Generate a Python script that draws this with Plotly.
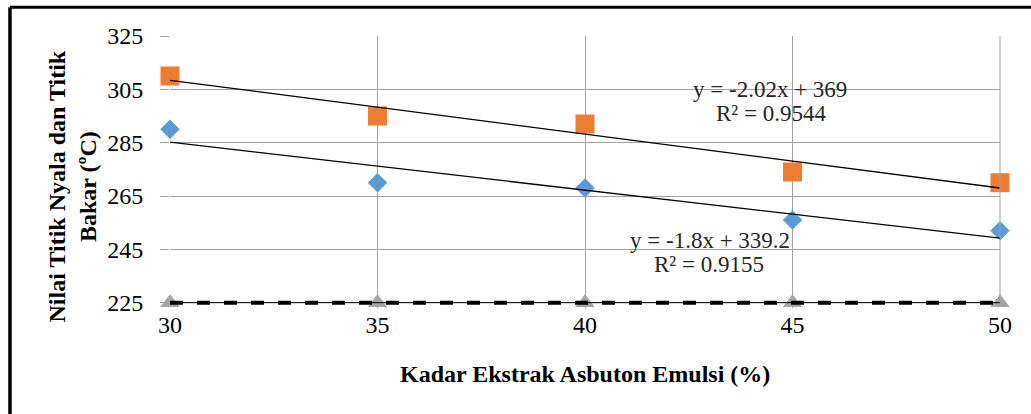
import numpy as np
import plotly.graph_objects as go

kadar = [30, 35, 40, 45, 50]
titik_bakar = [310, 295, 292, 274, 270]
titik_nyala = [290, 270, 268, 256, 252]
batas = [225, 225, 225, 225, 225]
y_ticks = [225, 245, 265, 285, 305, 325]
x_ticks = [30, 35, 40, 45, 50]

SERIF = "Liberation Serif, Times New Roman, serif"
GRID = "#a0a0a0"

fig = go.Figure()

# reference series at 225: thin line + thick dashes
fig.add_trace(go.Scatter(x=kadar, y=batas, mode="markers",
                         marker=dict(symbol="triangle-up", size=17, color="#A5A5A5"),
                         cliponaxis=False, showlegend=False))
fig.add_trace(go.Scatter(x=kadar, y=batas, mode="lines",
                         line=dict(color="black", width=1), cliponaxis=False,
                         showlegend=False, hoverinfo="skip"))
fig.add_trace(go.Scatter(x=kadar, y=batas, mode="lines",
                         line=dict(color="black", width=4, dash="13px,14px"),
                         cliponaxis=False, showlegend=False))

xa = np.array(kadar, dtype=float)
for vals, color, sym, size in [(titik_bakar, "#ED7D31", "square", 19),
                               (titik_nyala, "#5B9BD5", "diamond", 15)]:
    fig.add_trace(go.Scatter(x=kadar, y=vals, mode="markers",
                             marker=dict(symbol=sym, size=size, color=color),
                             cliponaxis=False, showlegend=False))
    m, b = np.polyfit(xa, np.array(vals, dtype=float), 1)
    xs = [kadar[0], kadar[-1]]
    fig.add_trace(go.Scatter(x=xs, y=[m * v + b for v in xs], mode="lines",
                             line=dict(color="black", width=1.3),
                             cliponaxis=False, showlegend=False))

eq_font = dict(family=SERIF, size=23, color="#262626")
for txt, x, y in [("y = -2.02x + 369", 44.46, 304.8), ("R² = 0.9544", 44.48, 295.8),
                  ("y = -1.8x + 339.2", 43.01, 248.2), ("R² = 0.9155", 42.98, 239.2)]:
    fig.add_annotation(x=x, y=y, xref="x", yref="y", text=txt, showarrow=False,
                       font=eq_font, xanchor="center", yanchor="middle")

fig.add_annotation(x=-0.118, y=0.447, xref="paper", yref="paper",
                   text="<b>Nilai Titik Nyala dan Titik<br>Bakar (ºC)</b>",
                   textangle=-90, showarrow=False,
                   font=dict(family=SERIF, size=24, color="black"),
                   xanchor="center", yanchor="middle")
fig.add_annotation(x=0.5, y=-0.241, xref="paper", yref="paper",
                   text="<b>Kadar Ekstrak Asbuton Emulsi (%)</b>", showarrow=False,
                   font=dict(family=SERIF, size=24, color="black"),
                   xanchor="center", yanchor="middle")

# outer chart frame (top and left edges visible)
fig.add_shape(type="line", xref="paper", yref="paper", x0=-0.1928, x1=1.1,
              y0=1.1056, y1=1.1056, line=dict(color="black", width=3))
fig.add_shape(type="line", xref="paper", yref="paper", x0=-0.1928, x1=-0.1928,
              y0=-0.5, y1=1.1056, line=dict(color="black", width=3.5))

fig.update_xaxes(range=[30, 50], tickvals=x_ticks, showgrid=True, gridcolor=GRID,
                 gridwidth=1, zeroline=False, showline=False, ticks="",
                 ticklabelstandoff=0,
                 tickfont=dict(family=SERIF, size=24, color="black"))
fig.update_yaxes(range=[223, 325], tickvals=y_ticks, showgrid=True, gridcolor=GRID,
                 gridwidth=1, zeroline=False, showline=False, ticks="outside",
                 ticklen=9, tickcolor=GRID, ticklabelstandoff=12,
                 tickfont=dict(family=SERIF, size=24, color="black"))
fig.add_shape(type="line", xref="paper", yref="y", x0=1, x1=1, y0=225, y1=325,
              line=dict(color=GRID, width=1))

fig.update_layout(width=1031, height=414, margin=dict(l=170, r=31, t=36, b=106),
                  plot_bgcolor="white", paper_bgcolor="white", showlegend=False)

fig.write_html("out.html", config={"displayModeBar": False},
               post_script="document.body.style.margin='0';")
